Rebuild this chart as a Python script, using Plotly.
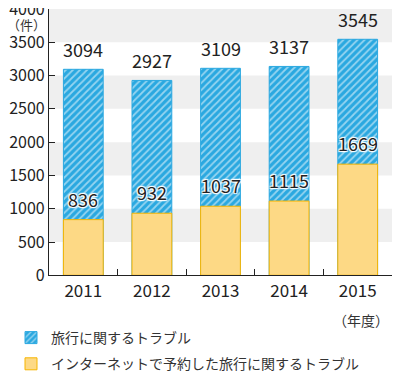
import plotly.graph_objects as go

years = ["2011", "2012", "2013", "2014", "2015"]
travel_total = [3094, 2927, 3109, 3137, 3545]
internet_booked = [836, 932, 1037, 1115, 1669]
y_ticks = [0, 500, 1000, 1500, 2000, 2500, 3000, 3500, 4000]
series_names = ["旅行に関するトラブル", "インターネットで予約した旅行に関するトラブル"]

FONT = "Noto Sans CJK JP, Noto Sans, sans-serif"
BLUE = "#2aa8e0"
YELLOW = "#fdd985"
ORANGE = "#f7b500"
HALO = "1px 1px 1px #fff, -1px -1px 1px #fff, 1px -1px 1px #fff, -1px 1px 1px #fff, 0 0 2px #fff"

OFF = 8  # default page body margin
W, H = 400 - OFF, 380 - OFF
ML, MR, MT, MB = 0, 8, 1, 0
PW, PH = W - ML - MR, H - MT - MB
# plot area in window pixels
PX0, PY1 = 49, 276


def px(x):
    return min(1.0, max(0.0, (x - OFF - ML) / PW))


def py(y):
    return min(1.0, max(0.0, (H - MB - (y - OFF)) / PH))


fig = go.Figure()
fig.add_trace(go.Bar(
    x=years, y=travel_total, name=series_names[0], width=0.58,
    marker=dict(color=BLUE, line=dict(color=BLUE, width=1),
                pattern=dict(shape="/", fgcolor="white", bgcolor=BLUE, size=5, solidity=0.35)),
    legendgroup="a",
))
fig.add_trace(go.Bar(
    x=years, y=internet_booked, name=series_names[1], width=0.58,
    marker=dict(color=YELLOW, line=dict(color=ORANGE, width=1)),
    legendgroup="b",
))

# alternating background bands
for i in range(1, len(y_ticks) - 1, 2):
    fig.add_shape(type="rect", xref="x domain", yref="y", x0=0, x1=1,
                  y0=y_ticks[i], y1=y_ticks[i + 1], fillcolor="#efefef",
                  line=dict(width=0), layer="below")

for i, v in enumerate(travel_total):
    fig.add_annotation(x=i, y=v, text=str(v), showarrow=False, yanchor="bottom",
                       yshift=5, font=dict(family=FONT, size=18, color="#222"))
for i, v in enumerate(internet_booked):
    fig.add_annotation(x=i, y=v, text=str(v), showarrow=False, yanchor="bottom",
                       yshift=6, font=dict(family=FONT, size=18, color="#222", shadow=HALO))

fig.add_annotation(xref="paper", yref="paper", x=px(26), y=py(25), text="（件）",
                   showarrow=False, xanchor="center", yanchor="middle",
                   font=dict(family=FONT, size=13, color="#333"))
fig.add_annotation(xref="paper", yref="paper", x=px(391), y=py(321), text="（年度）",
                   showarrow=False, xanchor="right", yanchor="middle",
                   font=dict(family=FONT, size=14, color="#333"))

fig.update_layout(
    width=W, height=H,
    margin=dict(l=ML, r=MR, t=MT, b=MB),
    barmode="overlay",
    plot_bgcolor="white", paper_bgcolor="white",
    font=dict(family=FONT, size=16, color="#222"),
    showlegend=True,
    legend=dict(x=px(11), y=py(323), xanchor="left", yanchor="top",
                font=dict(family=FONT, size=14, color="#333"),
                tracegroupgap=5, traceorder="grouped", bgcolor="rgba(0,0,0,0)"),
)
fig.update_xaxes(type="category", range=[-0.5, len(years) - 0.5], domain=[px(PX0), 1],
                 showline=True, linecolor="#222", linewidth=1.2, ticks="inside",
                 tickson="boundaries", ticklen=6, tickcolor="#222", automargin=False,
                 tickfont=dict(family=FONT, size=17), showgrid=False)
fig.update_yaxes(range=[0, 4000], tickvals=y_ticks, domain=[py(PY1), 1],
                 showline=True, linecolor="#222",
                 linewidth=1.2, ticks="inside", ticklen=6, tickcolor="#222", automargin=False,
                 tickfont=dict(family=FONT, size=16), showgrid=False, zeroline=False,
                 ticklabeloverflow="allow")

fig.write_html("out.html")
